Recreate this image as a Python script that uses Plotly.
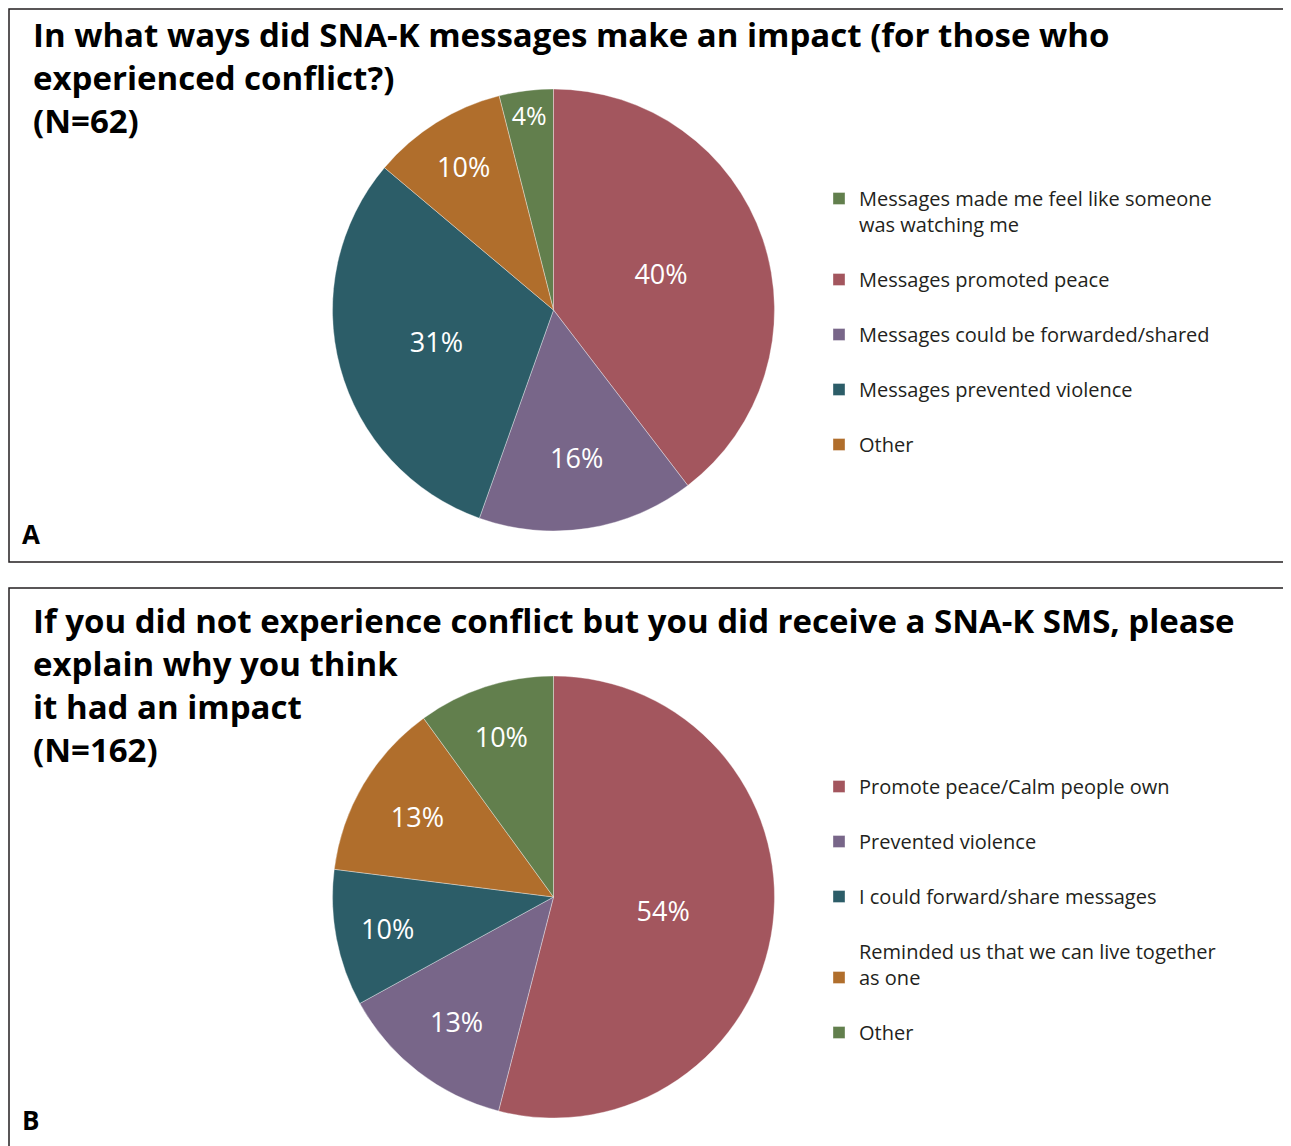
import plotly.graph_objects as go

# target picture size and the margin the page body adds around the figure
PAGE_W, PAGE_H = 1291, 1146
OFF = 8
W, H = PAGE_W - OFF, PAGE_H - OFF

# Panel A (N=62) - legend order
a_categories = [
    "Messages made me feel like someone<br>was watching me",
    "Messages promoted peace",
    "Messages could be forwarded/shared",
    "Messages prevented violence",
    "Other",
]
a_values = [4, 40, 16, 31, 10]
a_colors = ["#627f4d", "#a3565e", "#786689", "#2c5d68", "#b06e2c"]

# Panel B (N=162)
b_categories = [
    "Promote peace/Calm people own",
    "Prevented violence",
    "I could forward/share messages",
    "Reminded us that we can live together<br>as one",
    "Other",
]
b_values = [54, 13, 10, 13, 10]
b_colors = ["#a3565e", "#786689", "#2c5d68", "#b06e2c", "#627f4d"]

title_a = ("In what ways did SNA-K messages make an impact (for those who<br>"
           "experienced conflict?)<br>(N=62)")
title_b = ("If you did not experience conflict but you did receive a SNA-K SMS, please<br>"
           "explain why you think<br>it had an impact<br>(N=162)")

FONT = "Open Sans"
INK = "#231f20"


def px(x):
    return (x - OFF) / W


def py(y):
    return 1 - (y - OFF) / H


fig = go.Figure()

fig.add_trace(go.Pie(
    labels=[c + "<br> " for c in a_categories],
    values=a_values,
    sort=False,
    direction="clockwise",
    rotation=-360 * a_values[0] / sum(a_values),
    marker=dict(colors=a_colors, line=dict(color="rgba(255,255,255,0.6)", width=0.6)),
    texttemplate="%{value}%",
    textposition="inside",
    insidetextorientation="horizontal",
    insidetextfont=dict(color="white", size=27, family=FONT),
    domain=dict(x=[px(332), px(775)], y=[py(531), py(89)]),
    legend="legend",
    hovertemplate="%{label}: %{value}%<extra></extra>",
))

fig.add_trace(go.Pie(
    labels=[" <br>" + c for c in b_categories],
    values=b_values,
    sort=False,
    direction="clockwise",
    rotation=0,
    marker=dict(colors=b_colors, line=dict(color="rgba(255,255,255,0.6)", width=0.6)),
    texttemplate="%{value}%",
    textposition="inside",
    insidetextorientation="horizontal",
    insidetextfont=dict(color="white", size=27, family=FONT),
    domain=dict(x=[px(332), px(775)], y=[py(1118), py(676)]),
    legend="legend2",
    hovertemplate="%{label}: %{value}%<extra></extra>",
))

legend_style = dict(
    xanchor="left", yanchor="top", bgcolor="rgba(0,0,0,0)",
    font=dict(family=FONT, size=20, color=INK),
    tracegroupgap=0,
)

annotations = [
    dict(text="<b>" + title_a + "</b>", x=px(31), y=py(10), xref="paper", yref="paper",
         xanchor="left", yanchor="top", align="left", showarrow=False,
         font=dict(family=FONT, size=33, color="black")),
    dict(text="<b>" + title_b + "</b>", x=px(31), y=py(596), xref="paper", yref="paper",
         xanchor="left", yanchor="top", align="left", showarrow=False,
         font=dict(family=FONT, size=33, color="black")),
]
for tag, yy in (("A", 534), ("B", 1120)):
    annotations.append(dict(
        text="<b>" + tag + "</b>", x=px(20), y=py(yy), xref="paper", yref="paper",
        xanchor="left", yanchor="middle", showarrow=False,
        font=dict(family=FONT, size=26, color="black")))

fig.update_layout(
    width=W,
    height=H,
    margin=dict(l=0, r=0, t=0, b=0),
    paper_bgcolor="white",
    plot_bgcolor="white",
    font=dict(family=FONT, color=INK),
    legend=dict(x=px(819), y=py(179), valign="top", **legend_style),
    legend2=dict(x=px(819), y=py(741), valign="bottom", **legend_style),
    shapes=[
        dict(type="rect", xref="paper", yref="paper", x0=px(9), x1=px(1290), y0=py(562), y1=py(9),
             line=dict(color=INK, width=1.5)),
        dict(type="rect", xref="paper", yref="paper", x0=px(9), x1=px(1290), y0=py(1160), y1=py(588),
             line=dict(color=INK, width=1.5)),
    ],
    annotations=annotations,
)

fig.write_html("out.html")
